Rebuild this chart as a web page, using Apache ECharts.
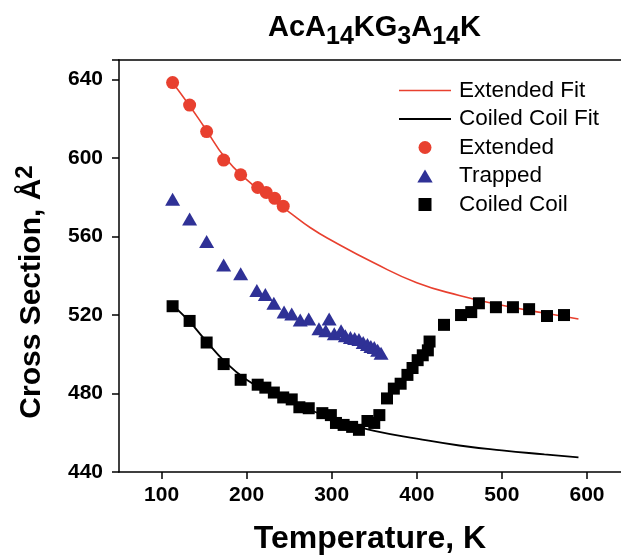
<!DOCTYPE html>
<html>
<head>
<meta charset="utf-8">
<script src="https://cdn.jsdelivr.net/npm/echarts@6/dist/echarts.min.js"></script>
<style>html,body{margin:0;padding:0;background:#fff}#c{width:621px;height:555px}</style>
</head>
<body>
<div id="c"></div>
<script>
// Extended (red circles)
const extT = [113, 133, 153, 173, 193, 213, 223, 233, 243];
const extY = [638.5, 627, 613.5, 599, 591.5, 585, 582.5, 579.5, 575.5];
// Trapped (blue triangles)
const trapT = [113, 133, 153, 173, 193, 212, 222, 232, 244, 253, 263, 273, 285, 293, 297, 303, 311, 316, 322, 327, 332, 337, 342, 346, 350, 354, 358];
const trapY = [579, 569, 557.5, 545.5, 541, 532.5, 530.5, 526, 521.5, 520.5, 517.5, 518, 513, 512, 518, 510.5, 512, 509.5, 508.5, 508, 507.5, 506, 505, 504, 503.5, 502, 500.5];
// Coiled Coil (black squares)
const coilT = [113, 133, 153, 173, 193, 213, 222, 232, 243, 253, 262, 273, 289, 299, 305, 314, 324, 332, 342, 350, 356, 365, 373, 381, 389, 395, 401, 407, 413, 415, 432, 452, 464, 473, 493, 513, 532, 553, 573];
const coilY = [524.5, 517, 506, 495, 487, 484.5, 483, 480.5, 478, 477, 473, 472.5, 470, 469, 465, 464, 463, 461.5, 466, 465, 469, 477.5, 482.5, 485, 489.5, 493, 497, 499.5, 502, 506.5, 515, 520, 521.5, 526, 524, 524, 523, 519.5, 520];
// Fit curves
const extFitT = [110, 130, 150, 175, 200, 225, 250, 275, 300, 350, 400, 450, 500, 550, 590];
const extFitY = [640, 628.5, 616, 600, 589, 580.5, 572.5, 564.5, 558, 546.5, 536.5, 530, 525, 521, 518];
const coilFitT = [110, 130, 150, 175, 200, 225, 250, 275, 300, 325, 350, 400, 450, 500, 550, 590];
const coilFitY = [526, 518, 508, 496, 487, 481, 476, 471.5, 467.5, 464, 461, 457, 453.5, 451, 449, 447.5];
const xTicks = [100, 200, 300, 400, 500, 600];

const FF = '"Liberation Sans", Arial, sans-serif';
const RED = '#E8402F', BLUE = '#2F3196', BLACK = '#000';
const zip = (a, b) => a.map((v, i) => [v, b[i]]);

const chart = echarts.init(document.getElementById('c'), null, {renderer: 'canvas'});
chart.setOption({
  backgroundColor: '#fff',
  animation: false,
  title: {
    text: '{a|AcA}{s|14}{a|KG}{s|3}{a|A}{s|14}{a|K}',
    left: 263, top: 8,
    textStyle: {
      rich: {
        a: {fontSize: 29, fontWeight: 'bold', fontFamily: FF, color: '#000', lineHeight: 29, verticalAlign: 'top'},
        s: {fontSize: 25, fontWeight: 'bold', fontFamily: FF, color: '#000', lineHeight: 25, verticalAlign: 'top', padding: [12, 0, 0, 0]}
      }
    }
  },
  legend: {
    orient: 'vertical', left: 394, top: 74,
    itemWidth: 52, itemHeight: 13, itemGap: 5.5,
    symbolKeepAspect: true,
    textStyle: {fontSize: 22.5, fontFamily: FF, color: '#000', lineHeight: 22.5, padding: [0, 0, 0, 3]},
    data: [
      {name: 'Extended Fit', icon: 'path://M0,0H52V1.6H0Z'},
      {name: 'Coiled Coil Fit', icon: 'path://M0,0H52V1.8H0Z'},
      {name: 'Extended', icon: 'circle'},
      {name: 'Trapped', icon: 'path://M6.5,0L13,11L0,11Z'},
      {name: 'Coiled Coil', icon: 'path://M0,0H10V10H0Z'}
    ]
  },
  grid: {left: 119, right: 0, top: 60, bottom: 83, containLabel: false, outerBoundsMode: 'none'},
  xAxis: [{
    type: 'value', min: 50, max: 640, position: 'bottom',
    name: 'Temperature, K', nameLocation: 'middle', nameGap: 51,
    nameTextStyle: {fontSize: 32, fontWeight: 'bold', fontFamily: FF, color: '#000'},
    axisLine: {show: true, onZero: false, lineStyle: {color: '#000', width: 1.5}},
    axisTick: {show: true, inside: false, length: 7, lineStyle: {color: '#000', width: 1.5}, customValues: xTicks},
    axisLabel: {fontSize: 21, fontWeight: 'bold', fontFamily: FF, color: '#000', margin: 13, customValues: xTicks},
    splitLine: {show: false}
  }, {
    type: 'value', min: 50, max: 640, position: 'top',
    axisLine: {show: true, onZero: false, lineStyle: {color: '#000', width: 1.5}},
    axisTick: {show: false}, axisLabel: {show: false}, splitLine: {show: false}
  }],
  yAxis: {
    type: 'value', min: 440, max: 650, interval: 40,
    name: '{a|Cross Section, Å}{s|2}', nameLocation: 'middle', nameGap: 72, nameRotate: 90,
    nameTextStyle: {
      padding: [0, 52, 0, 0],
      rich: {
        a: {fontSize: 30, fontWeight: 'bold', fontFamily: FF, color: '#000', lineHeight: 34, verticalAlign: 'bottom'},
        s: {fontSize: 24, fontWeight: 'bold', fontFamily: FF, color: '#000', lineHeight: 30, verticalAlign: 'top'}
      }
    },
    axisLine: {show: true, onZero: false, lineStyle: {color: '#000', width: 1.5}},
    axisTick: {show: true, inside: false, length: 7, lineStyle: {color: '#000', width: 1.5}},
    axisLabel: {fontSize: 21, fontWeight: 'bold', fontFamily: FF, color: '#000', margin: 16,
      formatter: v => (v % 40 === 0 ? String(v) : '')},
    splitLine: {show: false}
  },
  series: [
    {name: 'Extended Fit', type: 'line', smooth: true, symbol: 'none', data: zip(extFitT, extFitY),
      lineStyle: {color: RED, width: 1.6}, itemStyle: {color: RED}, z: 2},
    {name: 'Coiled Coil Fit', type: 'line', smooth: true, symbol: 'none', data: zip(coilFitT, coilFitY),
      lineStyle: {color: BLACK, width: 1.8}, itemStyle: {color: BLACK}, z: 2},
    {name: 'Extended', type: 'scatter', symbol: 'circle', symbolSize: 13, data: zip(extT, extY),
      itemStyle: {color: RED, opacity: 1}, z: 3},
    {name: 'Trapped', type: 'scatter', symbol: 'triangle', symbolSize: [15, 13], data: zip(trapT, trapY),
      itemStyle: {color: BLUE, opacity: 1}, z: 3},
    {name: 'Coiled Coil', type: 'scatter', symbol: 'rect', symbolSize: 12, data: zip(coilT, coilY),
      itemStyle: {color: BLACK, opacity: 1}, z: 3}
  ]
});
</script>
</body>
</html>
